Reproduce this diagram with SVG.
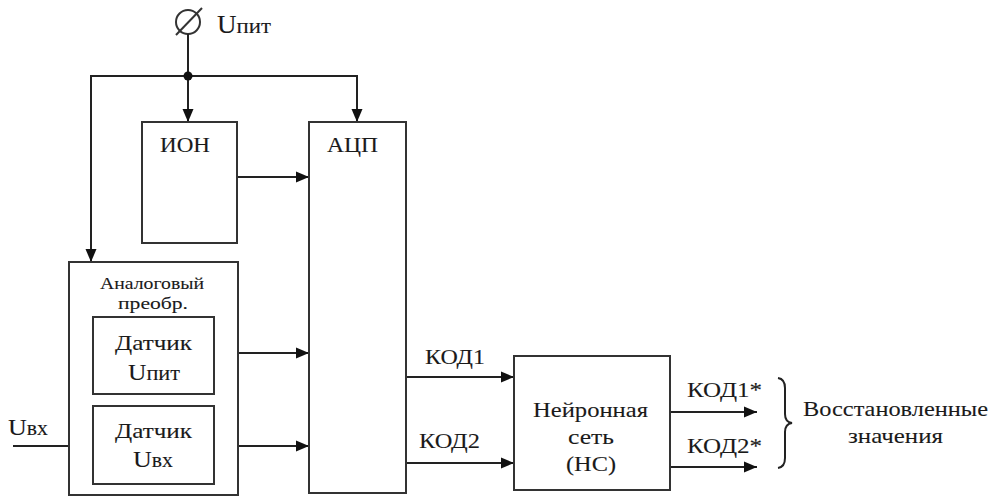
<svg xmlns="http://www.w3.org/2000/svg" width="993" height="499" viewBox="0 0 993 499" font-family="Liberation Serif, serif">
<style>
.box{fill:#fff;stroke:#333;stroke-width:2}
.ln{fill:none;stroke:#222;stroke-width:2}
.t{fill:#1a1a1a;stroke:#1a1a1a;stroke-width:0.1}
</style>
<defs>
<marker id="ah" markerUnits="userSpaceOnUse" markerWidth="14" markerHeight="12" refX="13" refY="6" orient="auto">
<path d="M0,0.5 L13,6 L0,11.5 z" fill="#111"/>
</marker>
</defs>
<rect width="993" height="499" fill="#fff"/>
<g id="power">
<circle cx="188" cy="22" r="12" fill="none" stroke="#333" stroke-width="2"/>
<line x1="176" y1="35" x2="202" y2="8" stroke="#333" stroke-width="2"/>
<text class="t" x="217" y="33" font-family="Liberation Serif" font-size="26" textLength="54" lengthAdjust="spacingAndGlyphs">U<tspan font-size="22">пит</tspan></text>
</g>
<g id="connectors">
<path class="ln" d="M188,34 V122" marker-end="url(#ah)"/>
<path class="ln" d="M188,76 H91 V262" marker-end="url(#ah)"/>
<path class="ln" d="M188,76 H357 V122" marker-end="url(#ah)"/>
<circle cx="188" cy="76" r="4.5" fill="#111"/>
<path class="ln" d="M237,177 H309" marker-end="url(#ah)"/>
<path class="ln" d="M214,353 H309" marker-end="url(#ah)"/>
<path class="ln" d="M214,446 H309" marker-end="url(#ah)"/>
<path class="ln" d="M13,446 H93" marker-end="url(#ah)"/>
<path class="ln" d="M406,377 H514" marker-end="url(#ah)"/>
<path class="ln" d="M406,463 H514" marker-end="url(#ah)"/>
<path class="ln" d="M670,412 H757" marker-end="url(#ah)"/>
<path class="ln" d="M670,467 H757" marker-end="url(#ah)"/>
<text class="t" font-family="Liberation Serif" font-size="22" x="425" y="364" textLength="60" lengthAdjust="spacingAndGlyphs">КОД1</text>
<text class="t" font-family="Liberation Serif" font-size="22" x="419" y="448" textLength="61" lengthAdjust="spacingAndGlyphs">КОД2</text>
<text class="t" font-family="Liberation Serif" font-size="22" x="687" y="397" textLength="75" lengthAdjust="spacingAndGlyphs">КОД1*</text>
<text class="t" font-family="Liberation Serif" font-size="22" x="687" y="453" textLength="75" lengthAdjust="spacingAndGlyphs">КОД2*</text>
<text class="t" font-family="Liberation Serif" x="8" y="435" font-size="24" textLength="40" lengthAdjust="spacingAndGlyphs">U<tspan font-size="20">вх</tspan></text>
</g>
<g id="ion">
<rect class="box" x="142" y="122" width="95" height="121"/>
<text class="t" font-family="Liberation Serif" font-size="22" x="160" y="152" textLength="50" lengthAdjust="spacingAndGlyphs">ИОН</text>
</g>
<g id="adc">
<rect class="box" x="309" y="122" width="97" height="371"/>
<text class="t" font-family="Liberation Serif" font-size="22" x="327" y="152" textLength="51" lengthAdjust="spacingAndGlyphs">АЦП</text>
</g>
<g id="analog">
<rect class="box" x="69" y="262" width="169" height="233"/>
<text class="t" font-family="Liberation Serif" font-size="17" x="100" y="289" textLength="104" lengthAdjust="spacingAndGlyphs">Аналоговый</text>
<text class="t" font-family="Liberation Serif" font-size="17" x="118" y="309" textLength="70" lengthAdjust="spacingAndGlyphs">преобр.</text>
</g>
<g id="sensor-upit">
<rect class="box" x="93" y="317" width="121" height="77"/>
<text class="t" font-family="Liberation Serif" font-size="22" x="115" y="350" textLength="77" lengthAdjust="spacingAndGlyphs">Датчик</text>
<text class="t" font-family="Liberation Serif" x="128" y="380" font-size="24" textLength="52" lengthAdjust="spacingAndGlyphs">U<tspan font-size="21">пит</tspan></text>
</g>
<g id="sensor-uvx">
<rect class="box" x="93" y="406" width="121" height="78"/>
<text class="t" font-family="Liberation Serif" font-size="22" x="115" y="438" textLength="77" lengthAdjust="spacingAndGlyphs">Датчик</text>
<text class="t" font-family="Liberation Serif" x="133" y="467" font-size="24" textLength="40" lengthAdjust="spacingAndGlyphs">U<tspan font-size="20">вх</tspan></text>
</g>
<g id="ns">
<rect class="box" x="514" y="356" width="156" height="134"/>
<text class="t" font-family="Liberation Serif" font-size="22" x="533" y="417" textLength="115" lengthAdjust="spacingAndGlyphs">Нейронная</text>
<text class="t" font-family="Liberation Serif" font-size="22" x="568" y="444" textLength="46" lengthAdjust="spacingAndGlyphs">сеть</text>
<text class="t" font-family="Liberation Serif" font-size="22" x="566" y="471" textLength="50" lengthAdjust="spacingAndGlyphs">(НС)</text>
</g>
<g id="result">
<path class="ln" d="M778,378 Q785,379 785,388 V414 Q785,422 792,423 Q785,424 785,432 V458 Q785,467 778,468"/>
<text class="t" font-family="Liberation Serif" font-size="22" x="803" y="416" textLength="185" lengthAdjust="spacingAndGlyphs">Восстановленные</text>
<text class="t" font-family="Liberation Serif" font-size="22" x="848" y="443" textLength="95" lengthAdjust="spacingAndGlyphs">значения</text>
</g>
</svg>
